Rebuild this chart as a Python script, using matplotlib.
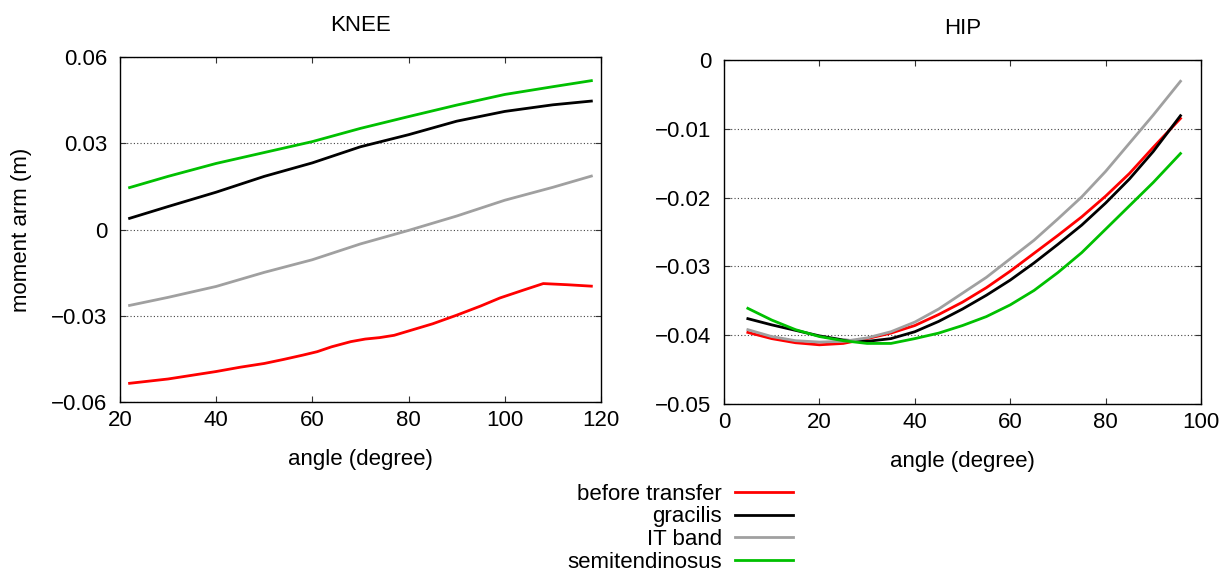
import matplotlib
matplotlib.use("Agg")
import matplotlib.pyplot as plt
from matplotlib.lines import Line2D

plt.rcParams['font.family'] = ['Liberation Sans', 'DejaVu Sans']

# ---- data ----
series_names = ['before transfer', 'gracilis', 'IT band', 'semitendinosus']
series_colors = ['#ff0000', '#000000', '#a0a0a0', '#00c000']

# knee
knee_angle = [22, 30, 40, 50, 60, 70, 80, 90, 100, 110, 118]
knee_gracilis = [0.0039, 0.0080, 0.0130, 0.0185, 0.0232, 0.0288, 0.0330, 0.0377, 0.0411, 0.0434, 0.0447]
knee_itband = [-0.0264, -0.0236, -0.0198, -0.0149, -0.0105, -0.0050, -0.0003, 0.0047, 0.0102, 0.0147, 0.0186]
knee_semiten = [0.0146, 0.0185, 0.0230, 0.0268, 0.0306, 0.0352, 0.0393, 0.0433, 0.0470, 0.0497, 0.0518]
knee_before_angle = [22, 30, 40, 45, 50, 54, 58, 61, 64, 68, 71, 74, 77, 80, 85, 90, 95, 99, 104, 108, 113, 118]
knee_before = [-0.0535, -0.0520, -0.0494, -0.0479, -0.0466, -0.0452, -0.0437, -0.0425, -0.0408,
               -0.0390, -0.0381, -0.0376, -0.0368, -0.0353, -0.0328, -0.0298, -0.0266, -0.0238,
               -0.0210, -0.0188, -0.0192, -0.0197]

# hip
hip_angle = [5, 10, 15, 20, 25, 30, 35, 40, 45, 50, 55, 60, 65, 70, 75, 80, 85, 90, 95.7]
hip_before = [-0.0396, -0.0405, -0.0411, -0.0414, -0.0412, -0.0405, -0.0397, -0.0386, -0.0370, -0.0352,
              -0.0331, -0.0307, -0.0281, -0.0255, -0.0228, -0.0198, -0.0165, -0.0127, -0.0085]
hip_gracilis = [-0.0376, -0.0385, -0.0393, -0.0401, -0.0407, -0.0409, -0.0405, -0.0395, -0.0380, -0.0362,
                -0.0342, -0.0320, -0.0295, -0.0268, -0.0240, -0.0208, -0.0173, -0.0133, -0.0081]
hip_itband = [-0.0392, -0.0402, -0.0408, -0.0410, -0.0409, -0.0404, -0.0395, -0.0381, -0.0362, -0.0339,
              -0.0316, -0.0289, -0.0262, -0.0231, -0.0199, -0.0162, -0.0121, -0.0080, -0.0031]
hip_semiten = [-0.0361, -0.0378, -0.0392, -0.0402, -0.0408, -0.0412, -0.0412, -0.0405, -0.0397, -0.0386,
               -0.0373, -0.0356, -0.0335, -0.0309, -0.0280, -0.0246, -0.0212, -0.0178, -0.0136]

knee_xticks = [20, 40, 60, 80, 100, 120]
knee_yticks = [-0.06, -0.03, 0, 0.03, 0.06]
knee_ylabels = ['\u22120.06', '\u22120.03', '0', '0.03', '0.06']
hip_xticks = [0, 20, 40, 60, 80, 100]
hip_yticks = [-0.05, -0.04, -0.03, -0.02, -0.01, 0]
hip_ylabels = ['\u22120.05', '\u22120.04', '\u22120.03', '\u22120.02', '\u22120.01', '0']

FS = 16
LW = 2.0

fig = plt.figure(figsize=(12.24, 5.71), dpi=100)
ax1 = fig.add_axes([0.098, 0.296, 0.393, 0.604])
ax2 = fig.add_axes([0.5915, 0.2925, 0.3897, 0.6025])


def style_axes(ax, xt, yt, ylabels, xlim, ylim, title):
    ax.set_xlim(*xlim)
    ax.set_ylim(*ylim)
    ax.set_xticks(xt)
    ax.set_xticklabels([str(v) for v in xt])
    ax.set_yticks(yt)
    ax.set_yticklabels(ylabels)
    ax.tick_params(direction='in', top=True, right=True, length=4, width=0.8,
                   labelsize=FS, color='#333333')
    ax.tick_params(axis='y', pad=9)
    ax.tick_params(axis='x', pad=6)
    ax.yaxis.grid(True, linestyle=(0, (1, 2)), color='#444444', linewidth=0.8)
    for sp in ax.spines.values():
        sp.set_linewidth(1.0)
    ax.set_title(title, fontsize=FS, pad=19)
    ax.set_xlabel('angle (degree)', fontsize=FS, labelpad=13)


ax1.plot(knee_before_angle, knee_before, color=series_colors[0], lw=LW)
ax1.plot(knee_angle, knee_gracilis, color=series_colors[1], lw=LW)
ax1.plot(knee_angle, knee_itband, color=series_colors[2], lw=LW)
ax1.plot(knee_angle, knee_semiten, color=series_colors[3], lw=LW)
style_axes(ax1, knee_xticks, knee_yticks, knee_ylabels, (20, 120), (-0.06, 0.06), 'KNEE')
ax1.set_ylabel('moment arm (m)', fontsize=FS, labelpad=14)

ax2.plot(hip_angle, hip_before, color=series_colors[0], lw=LW)
ax2.plot(hip_angle, hip_gracilis, color=series_colors[1], lw=LW)
ax2.plot(hip_angle, hip_itband, color=series_colors[2], lw=LW)
ax2.plot(hip_angle, hip_semiten, color=series_colors[3], lw=LW)
style_axes(ax2, hip_xticks, hip_yticks, hip_ylabels, (0, 100), (-0.05, 0), 'HIP')

handles = [Line2D([], [], color=c, lw=LW) for c in series_colors]
fig.legend(handles, series_names, loc='upper right', bbox_to_anchor=(0.648, 0.153),
           frameon=False, markerfirst=False, fontsize=FS, handlelength=2.6,
           handletextpad=0.6, labelspacing=0.08, borderpad=0, borderaxespad=0)

fig.savefig('out.png', dpi=100)
